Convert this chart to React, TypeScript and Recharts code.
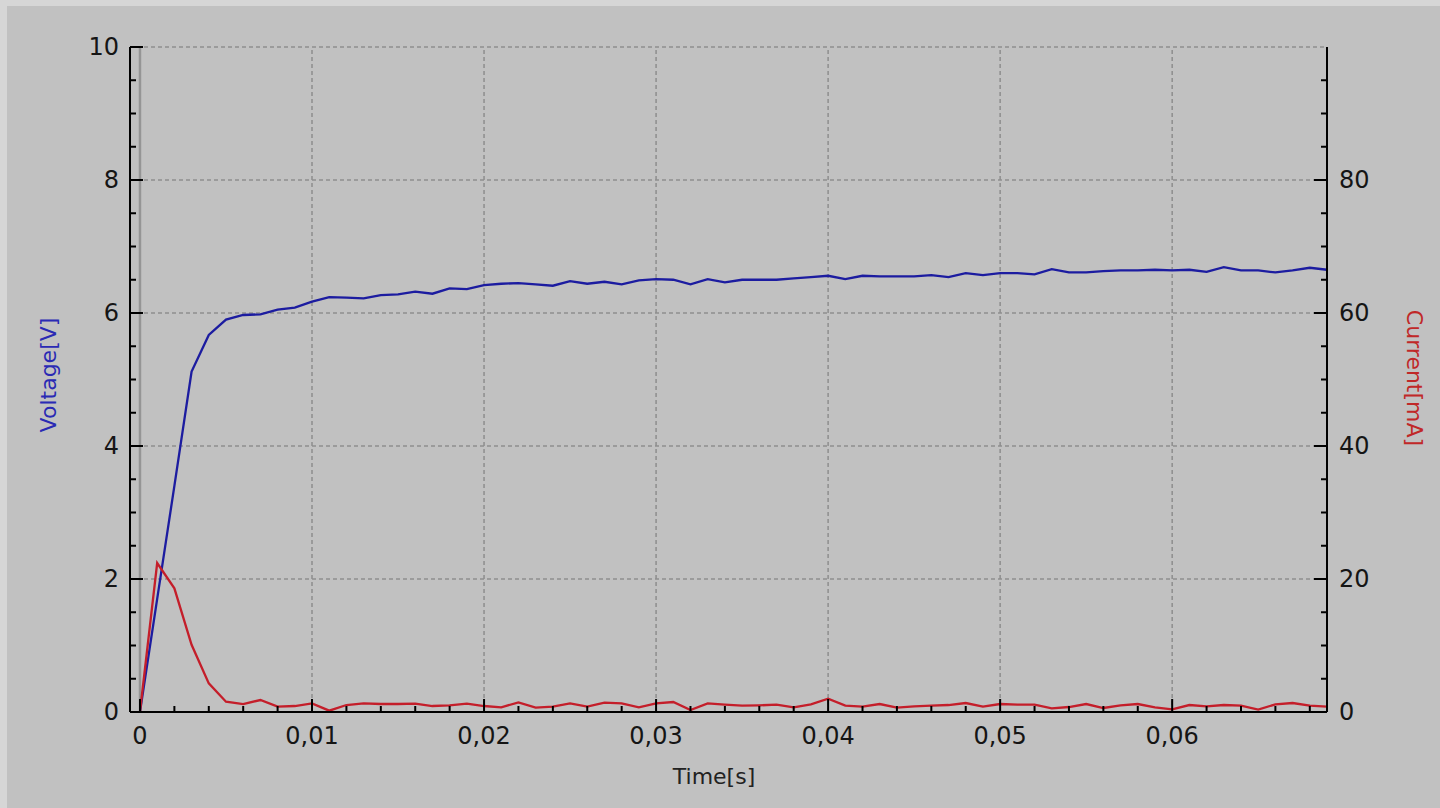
import React from 'react';
import { LineChart, Line, XAxis, YAxis, ReferenceLine } from 'recharts';

const TIME = [0, 0.001, 0.002, 0.003, 0.004, 0.005, 0.006, 0.007, 0.008, 0.009,
  0.01, 0.011, 0.012, 0.013, 0.014, 0.015, 0.016, 0.017, 0.018, 0.019,
  0.02, 0.021, 0.022, 0.023, 0.024, 0.025, 0.026, 0.027, 0.028, 0.029,
  0.03, 0.031, 0.032, 0.033, 0.034, 0.035, 0.036, 0.037, 0.038, 0.039,
  0.04, 0.041, 0.042, 0.043, 0.044, 0.045, 0.046, 0.047, 0.048, 0.049,
  0.05, 0.051, 0.052, 0.053, 0.054, 0.055, 0.056, 0.057, 0.058, 0.059,
  0.06, 0.061, 0.062, 0.063, 0.064, 0.065, 0.066, 0.067, 0.068, 0.069];

const VOLTAGE = [0, 1.7, 3.4, 5.12, 5.67, 5.9, 5.97, 5.98, 6.05, 6.08,
  6.17, 6.24, 6.23, 6.22, 6.27, 6.28, 6.32, 6.29, 6.37, 6.36,
  6.42, 6.44, 6.45, 6.43, 6.41, 6.48, 6.44, 6.47, 6.43, 6.49,
  6.51, 6.5, 6.43, 6.51, 6.46, 6.5, 6.5, 6.5, 6.52, 6.54,
  6.56, 6.51, 6.56, 6.55, 6.55, 6.55, 6.57, 6.54, 6.6, 6.57,
  6.6, 6.6, 6.58, 6.66, 6.61, 6.61, 6.63, 6.64, 6.64, 6.65,
  6.64, 6.65, 6.62, 6.69, 6.64, 6.64, 6.61, 6.64, 6.68, 6.65];

const CURRENT = [0, 22.4, 18.6, 10.1, 4.3, 1.55, 1.2, 1.8, 0.8, 0.9,
  1.3, 0.2, 1.05, 1.3, 1.2, 1.2, 1.25, 0.9, 1.0, 1.25,
  0.9, 0.7, 1.45, 0.65, 0.8, 1.3, 0.8, 1.4, 1.3, 0.7,
  1.3, 1.5, 0.3, 1.3, 1.1, 0.95, 1.0, 1.1, 0.7, 1.15,
  2.0, 0.95, 0.8, 1.2, 0.65, 0.85, 0.95, 1.05, 1.35, 0.8,
  1.2, 1.1, 1.1, 0.55, 0.75, 1.2, 0.6, 1.0, 1.2, 0.7,
  0.4, 1.05, 0.85, 1.05, 0.95, 0.35, 1.15, 1.35, 0.95, 0.8];

const X_TICKS = [0, 0.002, 0.004, 0.006, 0.008, 0.01, 0.012, 0.014, 0.016, 0.018,
  0.02, 0.022, 0.024, 0.026, 0.028, 0.03, 0.032, 0.034, 0.036, 0.038,
  0.04, 0.042, 0.044, 0.046, 0.048, 0.05, 0.052, 0.054, 0.056, 0.058,
  0.06, 0.062, 0.064, 0.066, 0.068];
const X_MAJOR = [0, 0.01, 0.02, 0.03, 0.04, 0.05, 0.06];
const X_LABELS = ['0', '0,01', '0,02', '0,03', '0,04', '0,05', '0,06'];

const YL_TICKS = [0, 0.5, 1, 1.5, 2, 2.5, 3, 3.5, 4, 4.5, 5, 5.5, 6, 6.5, 7, 7.5, 8, 8.5, 9, 9.5, 10];
const YL_MAJOR = [0, 2, 4, 6, 8, 10];
const YL_LABELS = ['0', '2', '4', '6', '8', '10'];

const YR_TICKS = [0, 5, 10, 15, 20, 25, 30, 35, 40, 45, 50, 55, 60, 65, 70, 75, 80, 85, 90, 95];
const YR_MAJOR = [0, 20, 40, 60, 80];
const YR_LABELS = ['0', '20', '40', '60', '80'];

const data = TIME.map((t, i) => ({ t, v: VOLTAGE[i], c: CURRENT[i] }));

const FONT = '"DejaVu Sans", sans-serif';
const TICK_FS = 24;
const TITLE_FS = 22;
const MAJOR_LEN = 13;
const MINOR_LEN = 6;
const GRID = '#8e8e8e';

const findMajor = (majors: number[], v: number) =>
  majors.findIndex((m) => Math.abs(m - v) < 1e-9);

const XTick = (props: any) => {
  const { x, y, payload } = props;
  const idx = findMajor(X_MAJOR, payload.value);
  const len = idx >= 0 ? MAJOR_LEN : MINOR_LEN;
  return (
    <g>
      <line x1={x} y1={y} x2={x} y2={y - len} stroke="#000" strokeWidth={2} />
      {idx >= 0 && (
        <text x={x} y={y + 32} textAnchor="middle" fontSize={TICK_FS} fontFamily={FONT} fill="#151515">
          {X_LABELS[idx]}
        </text>
      )}
    </g>
  );
};

const YLTick = (props: any) => {
  const { x, y, payload } = props;
  const idx = findMajor(YL_MAJOR, payload.value);
  const len = idx >= 0 ? MAJOR_LEN : MINOR_LEN;
  return (
    <g>
      <line x1={x} y1={y} x2={x + len} y2={y} stroke="#000" strokeWidth={2} />
      {idx >= 0 && (
        <text x={x - 11} y={y + 8} textAnchor="end" fontSize={TICK_FS} fontFamily={FONT} fill="#151515">
          {YL_LABELS[idx]}
        </text>
      )}
    </g>
  );
};

const YRTick = (props: any) => {
  const { x, y, payload } = props;
  const idx = findMajor(YR_MAJOR, payload.value);
  const len = idx >= 0 ? MAJOR_LEN : MINOR_LEN;
  return (
    <g>
      <line x1={x} y1={y} x2={x - len} y2={y} stroke="#000" strokeWidth={2} />
      {idx >= 0 && (
        <text x={x + 12} y={y + 8} textAnchor="start" fontSize={TICK_FS} fontFamily={FONT} fill="#151515">
          {YR_LABELS[idx]}
        </text>
      )}
    </g>
  );
};

const XTitle = () => (
  <text x={714} y={784} textAnchor="middle" fontSize={TITLE_FS} fontFamily={FONT} fill="#222">
    Time[s]
  </text>
);
const YLTitle = () => (
  <text x={48} y={375} textAnchor="middle" dominantBaseline="central" transform="rotate(-90 48 375)"
    fontSize={TITLE_FS} fontFamily={FONT} fill="#2a2ab4">
    Voltage[V]
  </text>
);
const YRTitle = () => (
  <text x={1414} y={378} textAnchor="middle" dominantBaseline="central" transform="rotate(90 1414 378)"
    fontSize={TITLE_FS} fontFamily={FONT} fill="#c02828">
    Current[mA]
  </text>
);

export default function App() {
  return (
    <div style={{ position: 'absolute', left: 0, top: 0, width: 1440, height: 808, background: '#d6d6d6' }}>
      <div style={{ position: 'absolute', left: 7, top: 6, right: 0, bottom: 0, background: '#c1c1c1' }} />
      <div style={{ position: 'absolute', left: 0, top: 0 }}>
        <LineChart width={1440} height={808} data={data} margin={{ top: 47, right: 0, bottom: 0, left: 0 }}>
          <XAxis
            dataKey="t"
            type="number"
            domain={[-0.00058, 0.069]}
            allowDataOverflow
            ticks={X_TICKS}
            interval={0}
            height={96}
            tickSize={0}
            tickMargin={0}
            tickLine={false}
            axisLine={{ stroke: '#000', strokeWidth: 2 }}
            tick={<XTick />}
            label={<XTitle />}
          />
          <YAxis
            yAxisId="left"
            orientation="left"
            type="number"
            domain={[0, 10]}
            allowDataOverflow
            ticks={YL_TICKS}
            interval={0}
            width={130}
            tickSize={0}
            tickMargin={0}
            tickLine={false}
            axisLine={{ stroke: '#000', strokeWidth: 2 }}
            tick={<YLTick />}
            label={<YLTitle />}
          />
          <YAxis
            yAxisId="right"
            orientation="right"
            type="number"
            domain={[0, 100]}
            allowDataOverflow
            ticks={YR_TICKS}
            interval={0}
            width={113}
            tickSize={0}
            tickMargin={0}
            tickLine={false}
            axisLine={{ stroke: '#000', strokeWidth: 2 }}
            tick={<YRTick />}
            label={<YRTitle />}
          />
          {YL_MAJOR.filter((v) => v > 0).map((v) => (
            <ReferenceLine key={'h' + v} yAxisId="left" y={v} stroke={GRID} strokeWidth={1.5} strokeDasharray="4 3" />
          ))}
          {X_MAJOR.filter((v) => v > 0).map((v) => (
            <ReferenceLine key={'v' + v} yAxisId="left" x={v} stroke={GRID} strokeWidth={1.5} strokeDasharray="4 3" />
          ))}
          <ReferenceLine yAxisId="left" x={0} stroke="#959595" strokeWidth={2.5} />
          <Line yAxisId="left" type="linear" dataKey="v" stroke="#1c1ca0" strokeWidth={2.3} dot={false} isAnimationActive={false} />
          <Line yAxisId="right" type="linear" dataKey="c" stroke="#c41e2a" strokeWidth={2.3} dot={false} isAnimationActive={false} />
        </LineChart>
      </div>
    </div>
  );
}
